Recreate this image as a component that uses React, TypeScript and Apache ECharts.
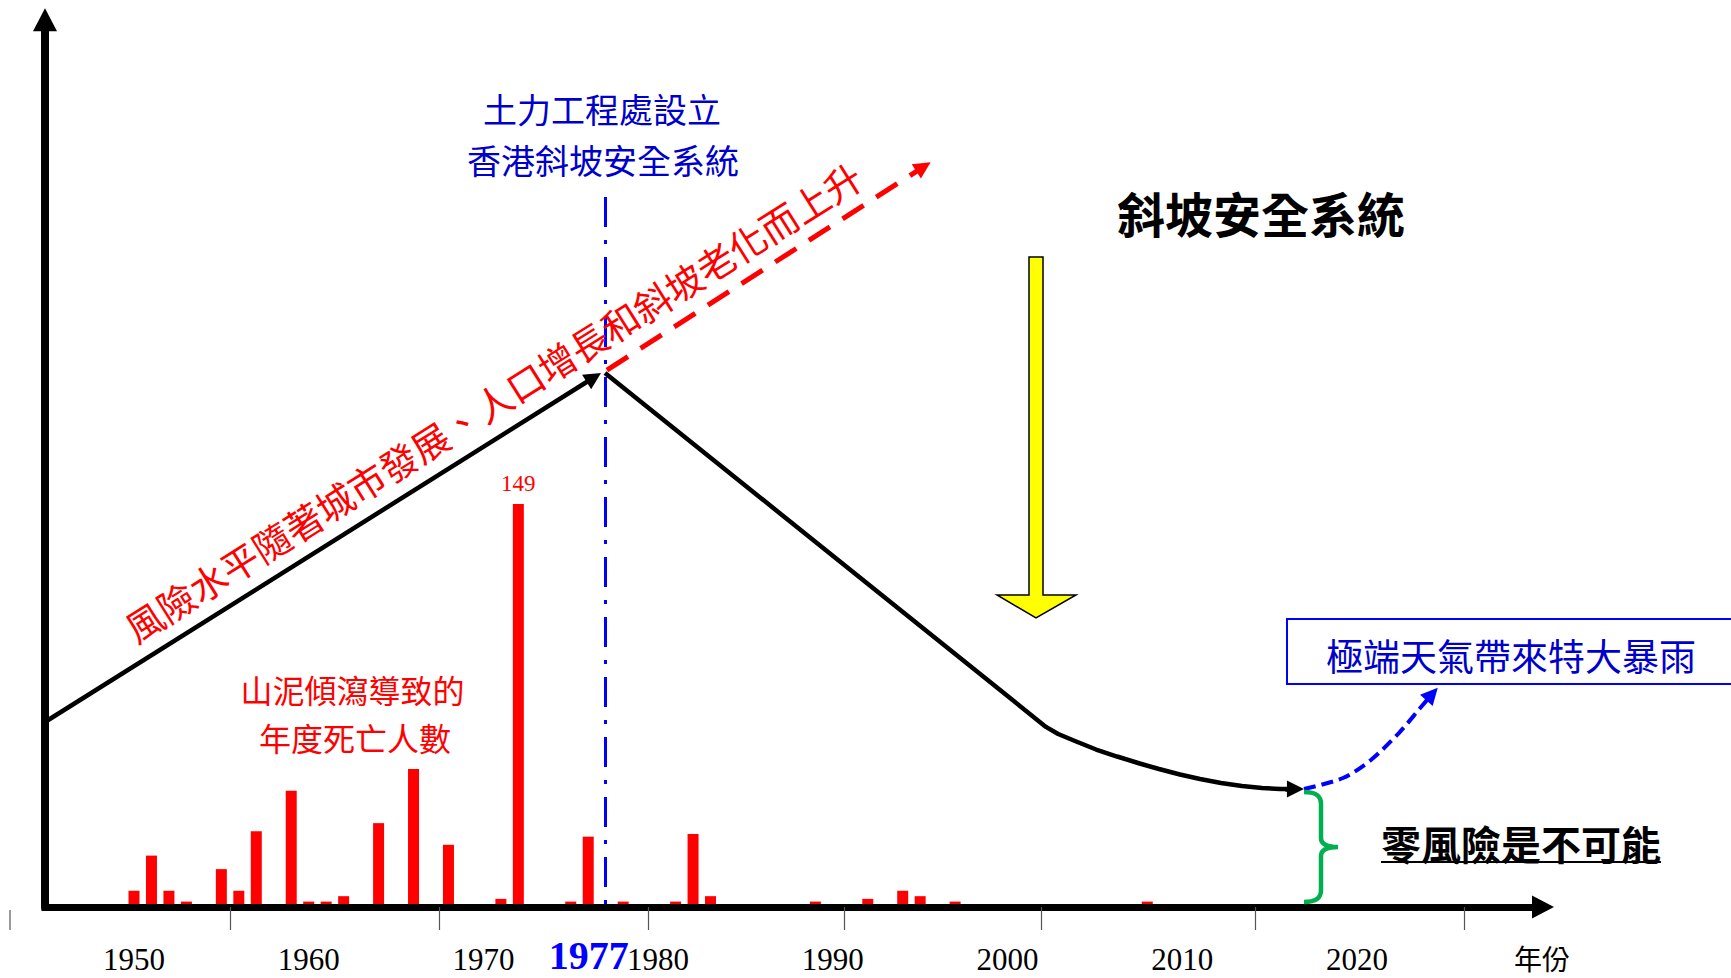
import React, { useEffect, useRef } from 'react';
import * as echarts from 'echarts';

// Annual landslide fatalities
const barYears = [1950, 1951, 1952, 1953, 1955, 1956, 1957, 1959, 1960, 1961, 1962, 1964, 1966, 1968, 1971, 1972, 1975, 1976, 1978, 1981, 1982, 1983, 1989, 1992, 1994, 1995, 1997, 2008];
const deaths = [6, 19, 6, 2, 14, 6, 28, 43, 2, 2, 4, 31, 51, 23, 3, 149, 2, 26, 2, 2, 27, 4, 2, 3, 6, 4, 2, 2];
const peakYear = 1972;

// Axis labels / ticks
const labelYears = [1950, 1960, 1970, 1977, 1980, 1990, 2000, 2010, 2020];
const tickYears = [1955.5, 1967.46, 1979.42, 1990.64, 2001.92, 2014.17, 2026.13];
const geoYear = 1977;
const geoLineTop = 80.02;

// Conceptual risk level (0-100 scale)
const riseYears = [1944.906, 1976.32];
const riseRisk = [20.85, 59.68];
const redYears = [1977.07, 1995.19];
const redRisk = [60.52, 83.42];
const fallYears = [1976.96, 2002.2, 2002.9, 2003.86, 2005.07, 2006.27, 2007.47, 2008.67, 2009.87, 2011.02, 2012.22, 2013.42, 2014.57, 2015.6, 2016.48];
const fallRisk = [60.19, 20.3, 19.5, 18.71, 17.75, 16.96, 16.23, 15.55, 14.93, 14.43, 13.98, 13.64, 13.41, 13.3, 13.3];
const fallArrowYears = [2015.9, 2016.48];
const fallArrowRisk = [13.3, 13.3];
const blueYears = [2016.97, 2019.2, 2020.8, 2022.4, 2023.67, 2024.3];
const blueRisk = [13.3, 14.54, 16.57, 19.61, 22.54, 24.0];
const blueArrowYears = [2024.07, 2024.3];
const blueArrowRisk = [23.5, 24.0];

const braceD = 'M0,0 C9,0 17,2 17,12 L17,46 C17,52 22,55 34,55 C22,55 17,58 17,64 L17,98 C17,108 9,110 0,110';
echarts.graphic.registerShape('brace', echarts.graphic.extendPath(braceD, {}));

const CJK = '"Noto Sans CJK TC", "Noto Sans CJK SC", sans-serif';
const SERIF = '"Liberation Serif", "DejaVu Serif", serif';

const zip = (xs: number[], ys: number[]) => xs.map((x, i) => [x, ys[i]]);

function txt(text: string, x: number, y: number, size: number, color: string, weight = 'normal', rotation = 0) {
  return {
    type: 'text',
    x,
    y,
    rotation,
    z: 50,
    style: {
      text,
      fontSize: size,
      fontFamily: CJK,
      fontWeight: weight,
      fill: color,
      align: 'center',
      verticalAlign: 'middle',
      textAlign: 'center',
      textVerticalAlign: 'middle',
    },
  };
}

const option: any = {
  animation: false,
  backgroundColor: '#ffffff',
  grid: { left: 45, right: 188, top: 19.76, bottom: 71, containLabel: false, outerBoundsMode: 'none' },
  xAxis: {
    type: 'value',
    min: 1944.906,
    max: 2030.65,
    z: 10,
    axisLine: {
      show: true,
      onZero: false,
      symbol: ['none', 'triangle'],
      symbolSize: [23, 22],
      lineStyle: { color: '#000', width: 7, cap: 'square' },
    },
    axisTick: { show: true, customValues: tickYears, length: 23, lineStyle: { color: '#555', width: 1.2 } },
    axisLabel: {
      customValues: labelYears,
      margin: 37,
      fontFamily: SERIF,
      fontSize: 31,
      color: '#000',
      formatter: (v: number) => (v === geoYear ? '{big|' + v + '}' : String(v)),
      rich: {
        big: { fontFamily: SERIF, fontSize: 40, lineHeight: 22, fontWeight: 'bold', color: '#0000FF', padding: [0, 34, 0, 0] },
      },
    },
    splitLine: { show: false },
  },
  yAxis: [
    {
      type: 'value',
      min: 0,
      max: 328,
      axisLine: {
        show: true,
        onZero: false,
        symbol: ['none', 'triangle'],
        symbolSize: [24, 23],
        lineStyle: { color: '#000', width: 8 },
      },
      axisTick: { show: false },
      axisLabel: { show: false },
      splitLine: { show: false },
    },
    { type: 'value', min: 0, max: 100, show: false, splitLine: { show: false } },
  ],
  series: [
    {
      type: 'bar',
      barWidth: 11,
      z: 2,
      itemStyle: { color: '#FF0000' },
      data: barYears.map((y, i) =>
        y === peakYear
          ? {
              value: [y, deaths[i]],
              label: { show: true, position: 'top', distance: 9, fontFamily: SERIF, fontSize: 23, color: '#FF0000' },
            }
          : [y, deaths[i]]
      ),
    },
    {
      type: 'line',
      yAxisIndex: 1,
      z: 3,
      showSymbol: false,
      symbol: 'none',
      smooth: false,
      lineStyle: { color: '#000', width: 4.5, join: 'round' },
      data: zip(fallYears, fallRisk),
    },
    {
      type: 'line',
      yAxisIndex: 1,
      z: 3,
      showSymbol: false,
      symbol: 'none',
      smooth: 0.3,
      lineStyle: { color: '#0000FF', width: 4, type: [12, 6] },
      data: zip(blueYears, blueRisk),
    },
    {
      type: 'lines',
      coordinateSystem: 'cartesian2d',
      xAxisIndex: 0,
      yAxisIndex: 1,
      z: 4,
      symbol: ['none', 'triangle'],
      symbolSize: 17,
      lineStyle: { opacity: 1 },
      data: [
        { coords: zip(riseYears, riseRisk), lineStyle: { color: '#000', width: 4.5, type: 'solid', opacity: 1 } },
        { coords: zip(redYears, redRisk), lineStyle: { color: '#FF0000', width: 5, type: [25, 15], opacity: 1 } },
        { coords: zip(fallArrowYears, fallArrowRisk), lineStyle: { color: '#000', width: 4.5, type: 'solid', opacity: 1 } },
        { coords: zip(blueArrowYears, blueArrowRisk), lineStyle: { color: '#0000FF', width: 4, type: 'solid', opacity: 1 } },
      ],
    },
    {
      type: 'lines',
      coordinateSystem: 'cartesian2d',
      xAxisIndex: 0,
      yAxisIndex: 1,
      z: 3,
      symbol: ['none', 'none'],
      lineStyle: { opacity: 1 },
      data: [
        { coords: [[geoYear, geoLineTop], [geoYear, 0]], lineStyle: { color: '#0000FF', width: 3, type: [30, 13, 4, 13], opacity: 1 } },
      ],
    },
  ],
  graphic: [
    { type: 'line', shape: { x1: 10, y1: 910, x2: 10, y2: 930 }, style: { stroke: '#555', lineWidth: 1.2 } },
    txt('土力工程處設立', 602, 108, 34, '#0000CC'),
    txt('香港斜坡安全系統', 603, 159, 34, '#0000CC'),
    txt('風險水平隨著城市發展、人口增長和斜坡老化而上升', 493, 401.5, 37.5, '#FF0000', 'normal', 0.562),
    txt('山泥傾瀉導致的', 352.5, 689, 32, '#FF0000'),
    txt('年度死亡人數', 355, 737, 32, '#FF0000'),
    txt('斜坡安全系統', 1261, 212, 48, '#000000', 'bold'),
    {
      type: 'polygon',
      z: 40,
      shape: { points: [[1029, 257], [1043, 257], [1043, 595], [1076, 595], [1036, 618], [997, 595], [1029, 595]] },
      style: { fill: '#FFFF00', stroke: '#000', lineWidth: 1.5 },
    },
    {
      type: 'rect',
      z: 40,
      shape: { x: 1287, y: 619, width: 460, height: 65 },
      style: { fill: '#fff', stroke: '#0000FF', lineWidth: 2 },
    },
    txt('極端天氣帶來特大暴雨', 1511, 655, 37, '#0000CC'),
    {
      type: 'brace',
      z: 40,
      x: 1304,
      y: 792,
      scaleX: 1,
      scaleY: 1,
      style: { fill: 'none', stroke: '#00B050', lineWidth: 4.5 },
    },
    txt('零風險是不可能', 1521, 843, 40, '#000000', 'bold'),
    { type: 'line', z: 40, shape: { x1: 1381, y1: 862, x2: 1661, y2: 862 }, style: { stroke: '#000', lineWidth: 2 } },
    txt('年份', 1542, 958, 28, '#000000'),
  ],
};

export default function App() {
  const ref = useRef<HTMLDivElement>(null);
  useEffect(() => {
    if (!ref.current) return;
    const chart = echarts.init(ref.current, null, { renderer: 'svg' });
    chart.setOption(option);
    return () => chart.dispose();
  }, []);
  return (
    <div
      ref={ref}
      style={{ position: 'absolute', left: 0, top: 0, width: 1731, height: 978, background: '#fff' }}
    />
  );
}
